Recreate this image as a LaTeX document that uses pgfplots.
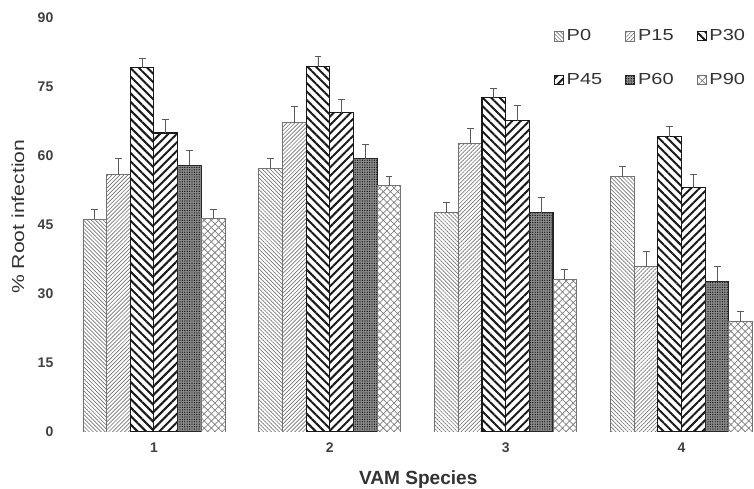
\documentclass[border=0pt]{standalone}
\usepackage{graphicx}
\usepackage{pgfplots}
\pgfplotsset{compat=1.18}
\usepackage{pgfplotstable}
\usetikzlibrary{patterns.meta}
\usepackage{fontspec}
\setmainfont{Liberation Sans}
\pgfplotstableread{
x  p0   e0   p15  e15  p30  e30  p45  e45  p60  e60  p90  e90
1  46.2 2.2  56.0 3.4  79.2 2.1  65.0 3.0  58.0 3.2  46.4 2.0
2  57.3 2.1  67.2 3.5  79.4 2.2  69.4 3.0  59.4 3.1  53.6 2.0
3  47.7 2.2  62.7 3.2  72.7 2.1  67.7 3.2  47.7 3.3  33.2 2.2
4  55.5 2.2  35.9 3.3  64.2 2.2  53.1 3.0  32.8 3.2  24.0 2.2
}\datatable
\pgfplotsset{
  myerr/.style={
    error bars/y dir=plus, error bars/y explicit, error bars/error mark=-,
    error bars/error bar style={black!65, line width=0.6pt, solid, pattern=none},
    error bars/error mark options={black!65, line width=0.6pt, mark size=2.6pt, solid, rotate=90},
  }
}
\newcommand{\legtxt}[1]{\makebox[42pt][l]{\scalebox{1.25}[1]{#1}}}
\begin{document}
\begin{tikzpicture}
\begin{axis}[
  at={(49.5pt,42.75pt)}, anchor=south west,
  scale only axis, width=516pt, height=310.5pt,
  xmin=0.5, xmax=4.412, ymin=0, ymax=90,
  ybar=0pt, bar width=0.1346,
  axis line style={draw=none},
  major tick length=0pt,
  xtick={1,2,3,4}, ytick={0,15,30,45,60,75,90},
  /pgf/number format/assume math mode=true,
  tick label style={font=\fontsize{10.5}{12}\selectfont\bfseries, text=black!75},
  yticklabel style={xshift=-6pt},
  xticklabel style={yshift=-4.5pt},
  ylabel={\% Root infection},
  ylabel style={at={(axis description cs:-0.0698,0.52)}, anchor=center, font=\fontsize{13}{15}\selectfont, text=black!80, xscale=1.22},
  xlabel={VAM Species},
  xlabel style={at={(axis description cs:0.512,-0.116)}, anchor=center, font=\fontsize{14.3}{16}\selectfont\bfseries, text=black!80},
  legend columns=3,
  legend style={draw=none, fill=none, at={(axis description cs:0.703,0.985)}, anchor=north west,
    font=\fontsize{12}{14}\selectfont, text=black!80, /tikz/row sep=18.5pt},
  legend image code/.code={\draw[#1] (0pt,-3.4pt) rectangle (6.75pt,3.4pt);},
]
\addplot[myerr, draw=black!55, line width=0.6pt, pattern={Lines[angle=-45,distance=2.1pt,line width=0.5pt]}, pattern color=black!55]
  table[x=x, y=p0, y error=e0]{\datatable};
\addlegendentry{\legtxt{P0}}
\addplot[myerr, draw=black!55, line width=0.6pt, pattern={Lines[angle=45,distance=2.1pt,line width=0.5pt]}, pattern color=black!55]
  table[x=x, y=p15, y error=e15]{\datatable};
\addlegendentry{\legtxt{P15}}
\addplot[myerr, draw=black!90, line width=0.8pt, pattern={Lines[angle=-45,distance=4.5pt,line width=1.5pt]}, pattern color=black!90]
  table[x=x, y=p30, y error=e30]{\datatable};
\addlegendentry{\scalebox{1.25}[1]{P30}}
\addplot[myerr, draw=black!90, line width=0.8pt, pattern={Lines[angle=45,distance=4.5pt,line width=1.5pt]}, pattern color=black!90]
  table[x=x, y=p45, y error=e45]{\datatable};
\addlegendentry{\legtxt{P45}}
\addplot[myerr, draw=black!85, line width=0.8pt, fill=black!45, postaction={pattern={Dots[distance=1.8pt,radius=0.55pt]}, pattern color=black!90}]
  table[x=x, y=p60, y error=e60]{\datatable};
\addlegendentry{\legtxt{P60}}
\addplot[myerr, draw=black!55, line width=0.6pt, pattern={Hatch[angle=45,distance=3.8pt,line width=0.55pt]}, pattern color=black!50]
  table[x=x, y=p90, y error=e90]{\datatable};
\addlegendentry{\scalebox{1.25}[1]{P90}}
\end{axis}
\pgfresetboundingbox
\useasboundingbox (0,0) rectangle (565.5pt,366.75pt);
\end{tikzpicture}
\end{document}
